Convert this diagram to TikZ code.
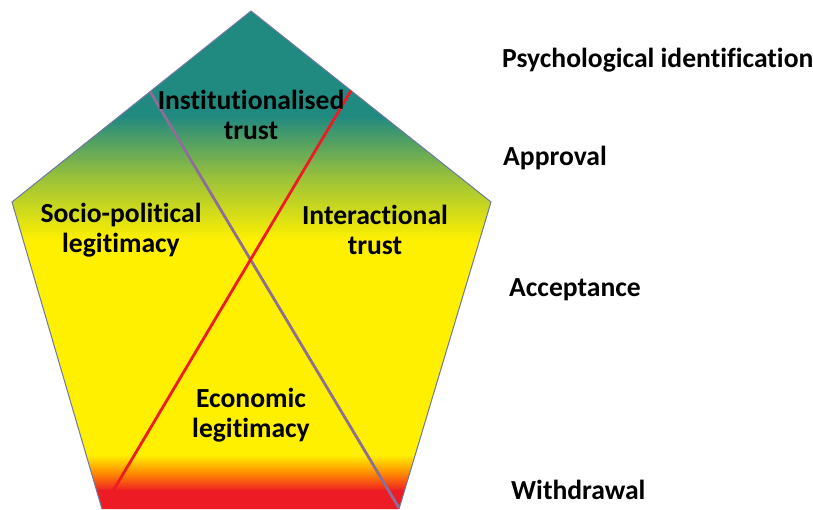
\documentclass[tikz,border=0pt]{standalone}
\usepackage{fontspec}
\setmainfont[Ligatures=NoCommon]{Carlito}
\definecolor{tealc}{RGB}{32,137,128}
\definecolor{yel}{RGB}{255,240,0}
\definecolor{redc}{RGB}{237,28,36}
\definecolor{edgec}{RGB}{110,120,160}
\definecolor{purp}{RGB}{140,110,150}
\begin{document}
\begin{tikzpicture}[x=1pt,y=-1pt,
  lbl/.style={font=\fontsize{27.6}{30}\selectfont\bfseries,align=center,text=black,inner sep=0pt},
  side/.style={font=\fontsize{27.6}{30}\selectfont\bfseries,anchor=west,text=black,inner sep=0pt}]
\useasboundingbox (0,0) rectangle (813,509);
\coordinate (T) at (251,11);
\coordinate (L) at (12,202);
\coordinate (R) at (491,202);
\coordinate (BL) at (102,509);
\coordinate (BR) at (399,509);
\coordinate (P1) at (150,91.5);
\coordinate (P2) at (399,508);
\coordinate (R1) at (351,90.6);
\coordinate (R2) at (113,491);
\begin{scope}
\clip (T) -- (R) -- (BR) -- (BL) -- (L) -- cycle;
\fill[tealc] (0,0) rectangle (813,117);
\shade[top color=tealc,bottom color=yel,middle color=tealc!45!yel] (0,116) rectangle (813,240);
\fill[yel] (0,239) rectangle (813,456);
\shade[top color=yel,bottom color=redc,middle color=orange!90!yel] (0,455) rectangle (813,491);
\fill[redc] (0,490) rectangle (813,510);
\end{scope}
\draw[edgec,line width=1pt,line join=miter] (BL) -- (L) -- (T) -- (R) -- (BR);
\draw[purp,line width=2.8pt] (P1) -- (P2);
\draw[redc,line width=2.8pt] (R1) -- (R2);
\node[lbl] (it) at (251,115) {Institutionalised\\trust};
\node[lbl] (sp) at (121,230) {Socio-political\\legitimacy};
\node[lbl] (ia) at (375,230) {Interactional\\trust};
\node[lbl] (el) at (251,415) {Economic\\legitimacy};
\node[side] (s1) at (502,60) {Psychological identification};
\node[side] (s2) at (503,158) {Approval};
\node[side] (s3) at (509,290) {Acceptance};
\node[side] (s4) at (511,490) {Withdrawal};
\end{tikzpicture}
\end{document}
